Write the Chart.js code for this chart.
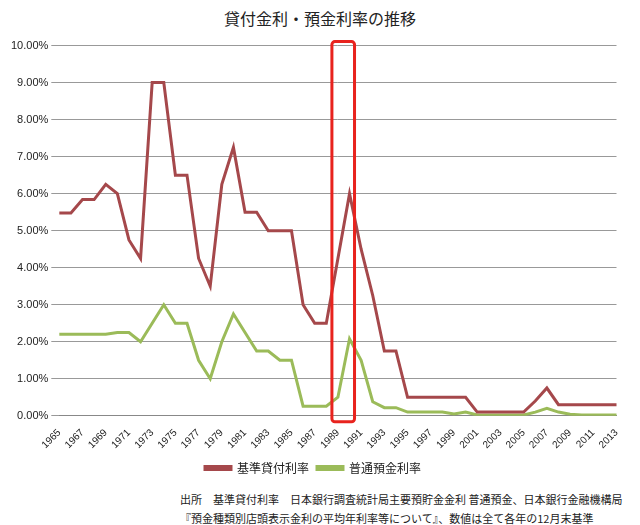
<!DOCTYPE html>
<html>
<head>
<meta charset="utf-8">
<script src="https://cdn.jsdelivr.net/npm/chart.js@4"></script>
<style>
body{margin:0;background:#fff;font-family:"Noto Sans CJK JP",sans-serif;}
#wrap{position:relative;width:640px;height:525px;}
#title{position:absolute;top:6px;left:0;width:640px;text-align:center;font-size:16px;color:#222;}
#note{position:absolute;left:180px;top:490px;font-size:11px;color:#222;line-height:19px;}
</style>
</head>
<body>
<div id="wrap">
<div id="title">貸付金利・預金利率の推移</div>
<div style="position:absolute;top:36px;left:0;width:628px;height:448px;"><canvas id="c"></canvas></div>
<div id="note">出所　基準貸付利率　日本銀行調査統計局主要預貯金金利 普通預金、日本銀行金融機構局<br>『預金種類別店頭表示金利の平均年利率等について』、数値は全て各年の12月末基準</div>
</div>
<script>
const years = [];
for(let y = 1965; y <= 2013; y++) years.push(String(y));

const lendingRate = [5.48,5.48,5.84,5.84,6.25,6.00,4.75,4.25,9.00,9.00,6.50,6.50,4.25,3.50,6.25,7.25,5.50,5.50,5.00,5.00,5.00,3.00,2.50,2.50,4.25,6.00,4.50,3.25,1.75,1.75,0.50,0.50,0.50,0.50,0.50,0.50,0.10,0.10,0.10,0.10,0.10,0.40,0.75,0.30,0.30,0.30,0.30,0.30,0.30];
const depositRate = [2.20,2.20,2.20,2.20,2.20,2.25,2.25,2.00,2.50,3.00,2.50,2.50,1.50,1.00,2.00,2.75,2.25,1.75,1.75,1.50,1.50,0.26,0.26,0.26,0.50,2.08,1.50,0.38,0.22,0.22,0.10,0.10,0.10,0.10,0.05,0.10,0.02,0.02,0.02,0.02,0.02,0.10,0.20,0.10,0.04,0.02,0.02,0.02,0.02];

// red box around 1989-1990
const boxPlugin = {
    id: "box",
    afterDraw(chart){
        const x = chart.scales.x, yS = chart.scales.y, ctx = chart.ctx;
        const l = x.getPixelForValue(24) - 6, r = x.getPixelForValue(25) + 5;
        const t = yS.getPixelForValue(10) - 4, b = yS.getPixelForValue(0) + 6;
        ctx.save();
        ctx.strokeStyle = "#e8231e";
        ctx.lineWidth = 3;
        ctx.beginPath();
        ctx.roundRect(l, t, r - l, b - t, 3);
        ctx.stroke();
        ctx.restore();
    }
};

new Chart(document.getElementById("c"), {
    type: "line",
    data: {
        labels: years,
        datasets: [
            { label: "基準貸付利率", data: lendingRate, borderColor: "#a5484b", backgroundColor: "#a5484b", borderWidth: 3, pointRadius: 0, tension: 0 },
            { label: "普通預金利率", data: depositRate, borderColor: "#9bbb59", backgroundColor: "#9bbb59", borderWidth: 3, pointRadius: 0, tension: 0 }
        ]
    },
    options: {
        responsive: true,
        maintainAspectRatio: false,
        animation: false,
        layout: { padding: { top: 6, right: 10, left: 8 } },
        plugins: {
            legend: {
                position: "bottom",
                labels: { boxWidth: 26, boxHeight: 3, color: "#222", font: { size: 12, family: "Noto Sans CJK JP" }, padding: 8 }
            },
            tooltip: { enabled: false }
        },
        scales: {
            x: {
                grid: { display: false, drawTicks: true },
                border: { color: "#888" },
                ticks: {
                    autoSkip: false, maxRotation: 45, minRotation: 45,
                    color: "#222", font: { size: 10 },
                    callback: (v, i) => i % 2 === 0 ? years[i] : ""
                }
            },
            y: {
                min: 0, max: 10,
                ticks: { stepSize: 1, color: "#222", font: { size: 11 }, callback: v => v.toFixed(2) + "%" },
                grid: { color: "#999" },
                border: { display: false }
            }
        }
    },
    plugins: [boxPlugin]
});
</script>
</body>
</html>
